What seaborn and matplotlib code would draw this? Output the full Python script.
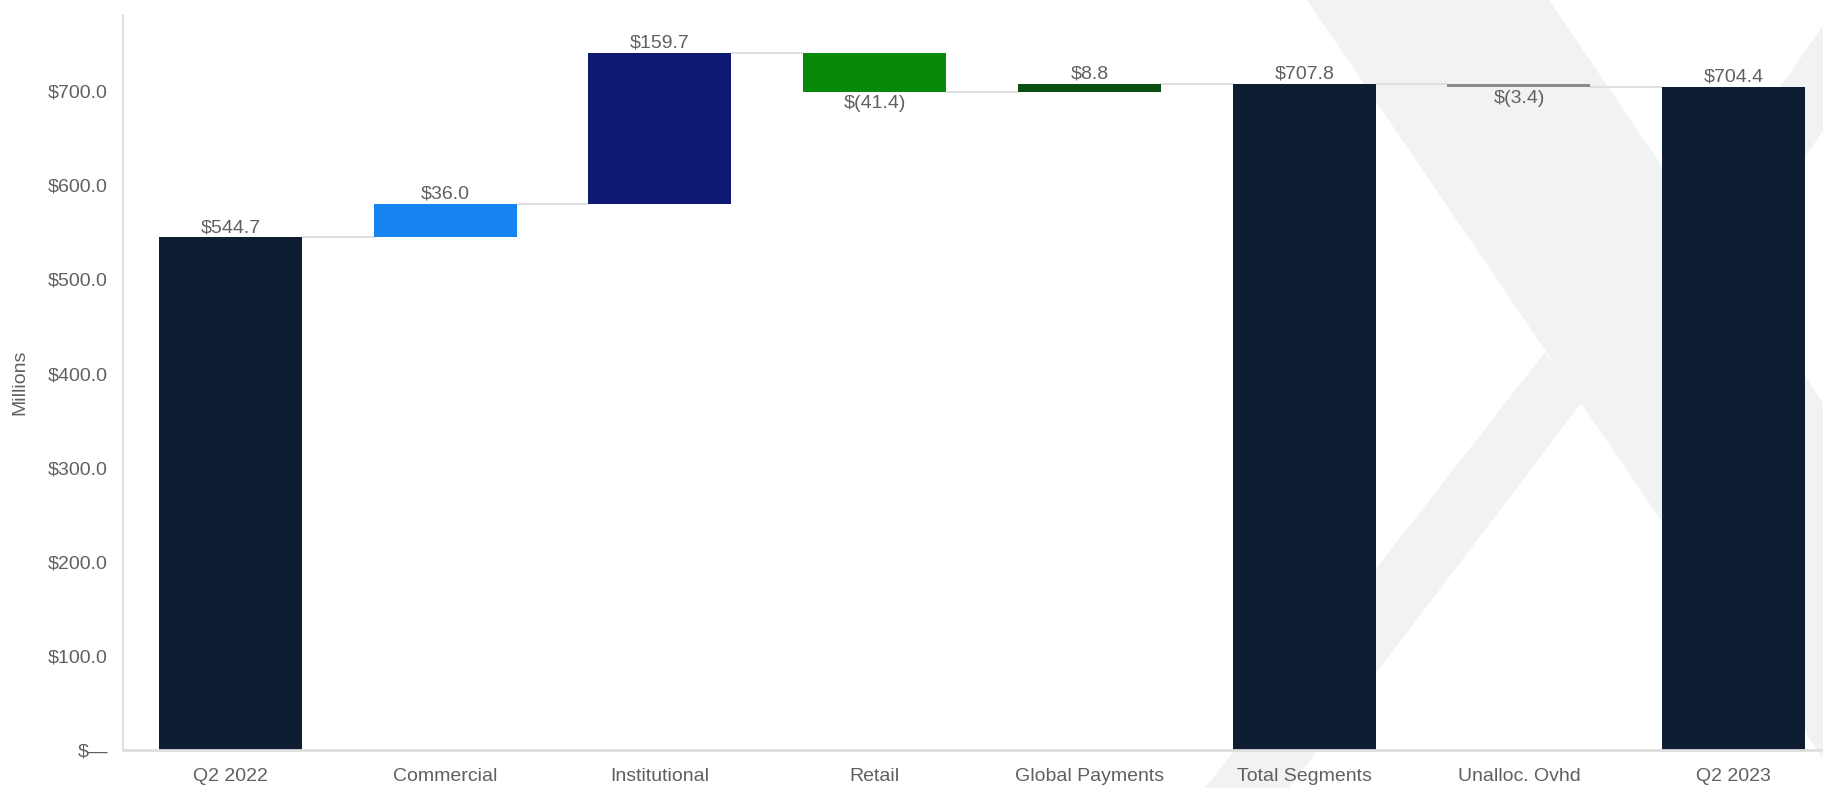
import matplotlib
matplotlib.use("Agg")
import matplotlib.pyplot as plt
from matplotlib.patches import Polygon
from matplotlib.ticker import FuncFormatter
import pandas as pd
import seaborn as sns

# waterfall data (millions)
categories = ["Q2 2022", "Commercial", "Institutional", "Retail", "Global Payments",
              "Total Segments", "Unalloc. Ovhd", "Q2 2023"]
changes = [544.7, 36.0, 159.7, -41.4, 8.8, 707.8, -3.4, 704.4]
is_total = [True, False, False, False, False, True, False, True]
bar_colors = ["#0f1d32", "#1784f2", "#0e1875", "#07890a", "#0a4d10",
              "#0f1d32", "#8c8c8c", "#0f1d32"]

sns.set_theme(style="white")
plt.rcParams["font.family"] = ["Liberation Sans", "DejaVu Sans"]
text_grey = "#606060"

# floating bar geometry
bottoms, heights, ends = [], [], []
running = 0.0
for v, tot in zip(changes, is_total):
    if tot:
        running = v
        bottoms.append(0.0)
        heights.append(v)
    else:
        start = running
        running = running + v
        bottoms.append(min(start, running))
        heights.append(abs(v))
    ends.append(running)

df = pd.DataFrame({"category": categories, "height": heights})

fig = plt.figure(figsize=(18.23, 7.88), dpi=100)

# faint logo watermark behind the chart (figure pixel coords, y from top)
W, H = 1823, 788
def fpoly(pts):
    return Polygon([(x / W, 1 - y / H) for x, y in pts], closed=True,
                   transform=fig.transFigure, facecolor="#f1f2f4",
                   edgecolor="none", zorder=0)
fig.patches.append(fpoly([(1307, 0), (1549, 0), (2085, 788), (1843, 788)]))
fig.patches.append(fpoly([(1545, 352), (1582, 402), (1289, 788), (1205, 788)]))
fig.patches.append(fpoly([(1693, 212), (1841, 0), (1915, 0), (1729, 265)]))

ax = fig.add_axes([0.0675, 0.0482, 0.9424, 0.9327])
ax.set_facecolor("none")
ax.set_zorder(1)

sns.barplot(data=df, x="category", y="height", hue="category",
            palette=bar_colors, order=categories, hue_order=categories,
            width=0.666, legend=False, linewidth=0, saturation=1, ax=ax)
for patch, b in zip(ax.patches, bottoms):
    patch.set_y(b)
    patch.set_zorder(3)

# connector lines
w = 0.666
for i in range(len(categories) - 1):
    ax.plot([i + w / 2, i + 1 - w / 2], [ends[i], ends[i]],
            color="#dcdcdc", lw=1.3, zorder=2)

# value labels
for i, (v, b, h, tot) in enumerate(zip(changes, bottoms, heights, is_total)):
    if v >= 0:
        txt = f"${v:,.1f}"
        ax.annotate(txt, (i, b + h), xytext=(0, 1), textcoords="offset points",
                    ha="center", va="bottom", fontsize=14, color=text_grey)
    else:
        txt = f"$({abs(v):.1f})"
        ax.annotate(txt, (i, b), xytext=(0, -2), textcoords="offset points",
                    ha="center", va="top", fontsize=14, color=text_grey)

ax.set_xlim(-0.5, 7.5)
ax.set_ylim(0, 781)
ax.set_yticks(range(0, 800, 100))
ax.yaxis.set_major_formatter(FuncFormatter(lambda v, p: "$\u2014" if v == 0 else f"${v:.1f}"))
ax.set_xlabel("")
ax.set_ylabel("Millions", fontsize=14, color=text_grey, labelpad=14)
ax.tick_params(axis="both", length=0, labelsize=14, labelcolor=text_grey)
ax.tick_params(axis="x", pad=13)
ax.tick_params(axis="y", pad=11)

sns.despine(ax=ax)
ax.spines["left"].set_color("#d9d9d9")
ax.spines["left"].set_linewidth(1.2)
ax.spines["bottom"].set_color("#dedede")
ax.spines["bottom"].set_linewidth(2)
ax.spines["bottom"].set_zorder(4)

fig.savefig("out.png", dpi=100)
